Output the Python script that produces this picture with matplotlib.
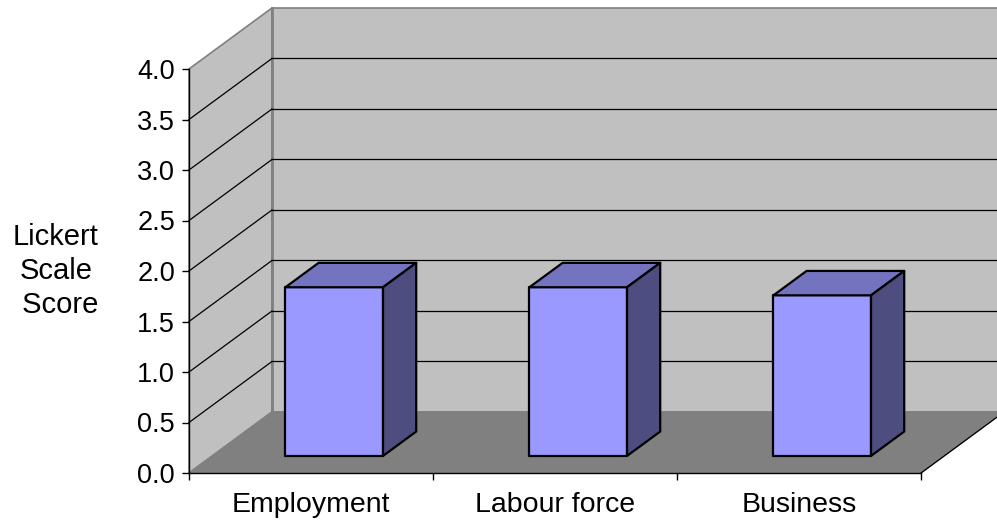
import matplotlib.pyplot as plt
import numpy as np

plt.rcParams['font.family'] = ['Liberation Sans', 'DejaVu Sans']

categories = ["Employment", "Labour force", "Business"]
scores = [1.67, 1.67, 1.59]
yticks = [0.0, 0.5, 1.0, 1.5, 2.0, 2.5, 3.0, 3.5, 4.0]

# oblique depth offset (in data units) and bar geometry
DX, DY = 0.34, 0.604
bar_w = 0.40
d0, d1 = 0.28, 0.68

fig = plt.figure(figsize=(9.97, 5.26), dpi=100)
ax = fig.add_axes([189/997, (526-473)/526, (921-189)/997, (473-69)/526])
ax.set_xlim(0, 3)
ax.set_ylim(0, 4)
ax.patch.set_visible(False)

wall = "#c0c0c0"
floor = "#808080"
edge = "#808080"

# side wall, back wall, floor
ax.fill([0, 0, DX, DX], [0, 4, 4+DY, DY], color=wall, ec=edge, lw=1.2, clip_on=False, zorder=0)
ax.fill([DX, 3+DX+1, 3+DX+1, DX], [DY, DY, 4+DY, 4+DY], color=wall, ec=edge, lw=1.2, clip_on=False, zorder=0)
ax.fill([0, 3, 3+DX, DX], [0, 0, DY, DY], color=floor, ec=floor, lw=1, clip_on=False, zorder=0.5)
ax.plot([3, 3+DX], [0, DY], color="black", lw=0.9, clip_on=False, zorder=0.6)
ax.plot([DX, DX], [DY, 4+DY], color=edge, lw=2, clip_on=False, zorder=0.6)

for v in yticks[1:-1]:
    ax.plot([0, DX], [v, v+DY], color="black", lw=0.9, clip_on=False, zorder=0.7)
    ax.plot([DX, 3+DX+1], [v+DY, v+DY], color="black", lw=0.9, clip_on=False, zorder=0.7)

# 3d bars
for i, s in enumerate(scores):
    cx = i + 0.5 + d0*DX
    x0, x1 = cx - bar_w/2, cx + bar_w/2
    ox, oy = (d1-d0)*DX, (d1-d0)*DY
    y0 = d0*DY
    y1 = y0 + s
    kw = dict(ec="black", lw=1.6, clip_on=False, zorder=3, joinstyle="round")
    ax.fill([x0, x1, x1, x0], [y0, y0, y1, y1], color="#9999ff", **kw)
    ax.fill([x0, x1, x1+ox, x0+ox], [y1, y1, y1+oy, y1+oy], color="#7373bf", **kw)
    ax.fill([x1, x1+ox, x1+ox, x1], [y0, y0+oy, y1+oy, y1], color="#4d4d80", **kw)

for sp in ["top", "right"]:
    ax.spines[sp].set_visible(False)
for sp in ["left", "bottom"]:
    ax.spines[sp].set_color("black")
    ax.spines[sp].set_linewidth(1.0)

ax.set_yticks(yticks)
ax.set_yticklabels([f"{v:.1f}" for v in yticks], fontsize=19.5)
ax.tick_params(axis="y", direction="out", length=5, width=1, pad=5)

ax.set_xticks([0, 1, 2, 3])
ax.set_xticklabels([])
ax.tick_params(axis="x", which="major", direction="out", length=5, width=1)
ax.set_xticks([0.5, 1.5, 2.5], minor=True)
ax.set_xticklabels(categories, minor=True, fontsize=20.5)
ax.tick_params(axis="x", which="minor", length=0, pad=14)

fig.text(56/997, 1-271/526, "Lickert\nScale\n Score", ha="center", va="center",
         multialignment="center", fontsize=21, linespacing=1.27)

fig.savefig("out.png", dpi=100)
